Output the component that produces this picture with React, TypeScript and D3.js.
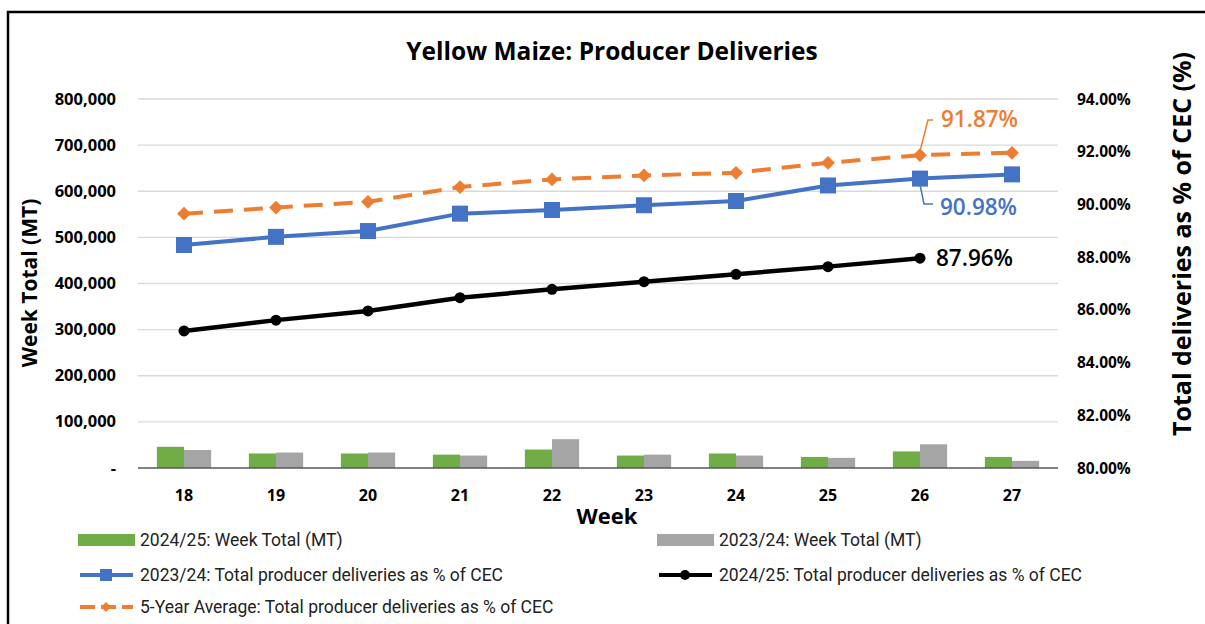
import React, { useEffect, useRef } from "react";
import * as d3 from "d3";

// weeks on the x axis
const weeks = ["18", "19", "20", "21", "22", "23", "24", "25", "26", "27"];

// weekly totals (MT), left axis
const weekTotal2425 = [46000, 31500, 31500, 29000, 40000, 27000, 31500, 24000, 36000, 24000];
const weekTotal2324 = [39000, 33500, 33500, 27000, 62500, 29000, 27000, 22000, 51500, 15500];

// deliveries as % of CEC, right axis
const pct2324 = [88.46, 88.77, 88.99, 89.65, 89.79, 89.97, 90.13, 90.72, 90.98, 91.14];
const pct2425 = [85.2, 85.61, 85.96, 86.46, 86.78, 87.07, 87.35, 87.64, 87.96];
const pct5yr = [89.65, 89.88, 90.1, 90.66, 90.95, 91.1, 91.2, 91.58, 91.87, 91.96];

const leftTicks = [0, 100000, 200000, 300000, 400000, 500000, 600000, 700000, 800000];
const rightTicks = [80, 82, 84, 86, 88, 90, 92, 94];

const GREEN = "#70AD47";
const GRAY = "#A5A5A5";
const BLUE = "#4472C4";
const ORANGE = "#ED7D31";
const FONT = "'Open Sans', 'Noto Sans', sans-serif";

export default function App() {
  const ref = useRef<SVGSVGElement>(null);

  useEffect(() => {
    const svg = d3.select(ref.current);
    svg.selectAll("*").remove();

    const left = 138,
      right = 1058,
      top = 99,
      bottom = 468;

    const x = d3.scaleBand().domain(weeks).range([left, right]).paddingInner(0.41).paddingOuter(0.205);
    const xc = (w: string) => (x(w) as number) + x.bandwidth() / 2;
    const sub = d3.scaleBand().domain(["a", "b"]).range([0, x.bandwidth()]);
    const yL = d3.scaleLinear().domain([0, 800000]).range([bottom, top]);
    const yR = d3.scaleLinear().domain([80, 94]).range([bottom, top]);

    // frame
    svg.append("line").attr("x1", 7).attr("x2", 1205).attr("y1", 12).attr("y2", 12).attr("stroke", "#000").attr("stroke-width", 2.5);
    svg.append("line").attr("x1", 8).attr("x2", 8).attr("y1", 11).attr("y2", 624).attr("stroke", "#000").attr("stroke-width", 2.5);

    // title
    svg
      .append("text")
      .attr("x", 612)
      .attr("y", 60)
      .attr("text-anchor", "middle")
      .attr("font-family", FONT)
      .attr("font-weight", 700)
      .attr("font-size", 24.5)
      .attr("fill", "#000")
      .text("Yellow Maize: Producer Deliveries");

    // gridlines
    svg
      .selectAll(".grid")
      .data(leftTicks.slice(1))
      .join("line")
      .attr("class", "grid")
      .attr("x1", left)
      .attr("x2", right)
      .attr("y1", (d) => yL(d))
      .attr("y2", (d) => yL(d))
      .attr("stroke", "#D9D9D9")
      .attr("stroke-width", 1.3);

    // left ticks
    svg
      .selectAll(".ltick")
      .data(leftTicks)
      .join("text")
      .attr("class", "ltick")
      .attr("x", 116)
      .attr("y", (d) => yL(d) + 5.5)
      .attr("text-anchor", "end")
      .attr("font-family", FONT)
      .attr("font-weight", 700)
      .attr("font-size", 16.5)
      .text((d) => (d === 0 ? "-" : d3.format(",")(d)));

    // right ticks
    svg
      .selectAll(".rtick")
      .data(rightTicks)
      .join("text")
      .attr("class", "rtick")
      .attr("x", 1077)
      .attr("y", (d) => yR(d) + 5.5)
      .attr("font-family", FONT)
      .attr("font-weight", 700)
      .attr("font-size", 15.5)
      .text((d) => d.toFixed(2) + "%");

    // bars
    const bars = weeks.map((w, i) => ({ w, a: weekTotal2425[i], b: weekTotal2324[i] }));
    svg
      .selectAll(".bar-a")
      .data(bars)
      .join("rect")
      .attr("class", "bar-a")
      .attr("x", (d) => (x(d.w) as number) + (sub("a") as number))
      .attr("width", sub.bandwidth())
      .attr("y", (d) => yL(d.a))
      .attr("height", (d) => yL(0) - yL(d.a))
      .attr("fill", GREEN);
    svg
      .selectAll(".bar-b")
      .data(bars)
      .join("rect")
      .attr("class", "bar-b")
      .attr("x", (d) => (x(d.w) as number) + (sub("b") as number))
      .attr("width", sub.bandwidth())
      .attr("y", (d) => yL(d.b))
      .attr("height", (d) => yL(0) - yL(d.b))
      .attr("fill", GRAY);

    // x axis line
    svg.append("line").attr("x1", left).attr("x2", right).attr("y1", bottom).attr("y2", bottom).attr("stroke", "#595959").attr("stroke-width", 1.5);

    // x ticks
    svg
      .selectAll(".xtick")
      .data(weeks)
      .join("text")
      .attr("class", "xtick")
      .attr("x", (d) => xc(d))
      .attr("y", 501)
      .attr("text-anchor", "middle")
      .attr("font-family", FONT)
      .attr("font-weight", 700)
      .attr("font-size", 16)
      .text((d) => d);

    // axis titles
    svg
      .append("text")
      .attr("x", 607)
      .attr("y", 524)
      .attr("text-anchor", "middle")
      .attr("font-family", FONT)
      .attr("font-weight", 700)
      .attr("font-size", 22)
      .text("Week");
    svg
      .append("text")
      .attr("transform", "translate(37,283) rotate(-90)")
      .attr("text-anchor", "middle")
      .attr("font-family", FONT)
      .attr("font-weight", 700)
      .attr("font-size", 21)
      .text("Week Total (MT)");
    svg
      .append("text")
      .attr("transform", "translate(1191,244) rotate(-90)")
      .attr("text-anchor", "middle")
      .attr("font-family", FONT)
      .attr("font-weight", 700)
      .attr("font-size", 25)
      .text("Total deliveries as % of CEC (%)");

    const line = d3
      .line<number>()
      .x((d, i) => xc(weeks[i]))
      .y((d) => yR(d));

    // 5-year average (dashed, diamonds)
    svg.append("path").attr("d", line(pct5yr)).attr("fill", "none").attr("stroke", ORANGE).attr("stroke-width", 4).attr("stroke-dasharray", "19,11");
    svg
      .selectAll(".pt-5yr")
      .data(pct5yr)
      .join("path")
      .attr("class", "pt-5yr")
      .attr("transform", (d, i) => `translate(${xc(weeks[i])},${yR(d)}) rotate(45)`)
      .attr("d", d3.symbol(d3.symbolSquare, 95)())
      .attr("fill", ORANGE);

    // 2023/24 (blue squares)
    svg.append("path").attr("d", line(pct2324)).attr("fill", "none").attr("stroke", BLUE).attr("stroke-width", 4);
    svg
      .selectAll(".pt-2324")
      .data(pct2324)
      .join("rect")
      .attr("class", "pt-2324")
      .attr("x", (d, i) => xc(weeks[i]) - 8)
      .attr("y", (d) => yR(d) - 8)
      .attr("width", 16)
      .attr("height", 16)
      .attr("fill", BLUE);

    // 2024/25 (black circles)
    svg.append("path").attr("d", line(pct2425)).attr("fill", "none").attr("stroke", "#000").attr("stroke-width", 4.5);
    svg
      .selectAll(".pt-2425")
      .data(pct2425)
      .join("circle")
      .attr("class", "pt-2425")
      .attr("cx", (d, i) => xc(weeks[i]))
      .attr("cy", (d) => yR(d))
      .attr("r", 5.5)
      .attr("fill", "#000");

    // data labels on week 26
    const i26 = weeks.indexOf("26");
    const x26 = xc("26");
    svg
      .append("path")
      .attr("d", `M${x26},${yR(pct5yr[i26]) - 4} L${x26 + 8},${120} L${x26 + 13},${120}`)
      .attr("fill", "none")
      .attr("stroke", ORANGE)
      .attr("stroke-width", 1.5);
    svg
      .append("text")
      .attr("x", x26 + 21)
      .attr("y", 127)
      .attr("font-family", FONT)
      .attr("font-weight", 600)
      .attr("font-size", 22.5)
      .attr("fill", ORANGE)
      .text(pct5yr[i26].toFixed(2) + "%");
    svg
      .append("path")
      .attr("d", `M${x26},${yR(pct2324[i26]) + 6} L${x26 + 4},${204} L${x26 + 13},${204}`)
      .attr("fill", "none")
      .attr("stroke", BLUE)
      .attr("stroke-width", 1.5);
    svg
      .append("text")
      .attr("x", x26 + 20)
      .attr("y", 215)
      .attr("font-family", FONT)
      .attr("font-weight", 600)
      .attr("font-size", 22.5)
      .attr("fill", BLUE)
      .text(pct2324[i26].toFixed(2) + "%");
    svg
      .append("text")
      .attr("x", x26 + 16)
      .attr("y", yR(pct2425[i26]) + 8)
      .attr("font-family", FONT)
      .attr("font-weight", 600)
      .attr("font-size", 22.5)
      .attr("fill", "#000")
      .text(pct2425[i26].toFixed(2) + "%");

    // legend
    const legend = [
      { label: "2024/25: Week Total (MT)", kind: "bar", color: GREEN, x: 78, y: 540 },
      { label: "2023/24: Week Total (MT)", kind: "bar", color: GRAY, x: 657, y: 540 },
      { label: "2023/24: Total producer deliveries as % of CEC", kind: "square", color: BLUE, x: 78, y: 575 },
      { label: "2024/25: Total producer deliveries as % of CEC", kind: "circle", color: "#000", x: 657, y: 575 },
      { label: "5-Year Average: Total producer deliveries as % of CEC", kind: "diamond", color: ORANGE, x: 78, y: 607 },
    ];
    const lg = svg.selectAll(".lg").data(legend).join("g").attr("class", "lg").attr("transform", (d) => `translate(${d.x},${d.y})`);
    lg.each(function (d) {
      const g = d3.select(this);
      if (d.kind === "bar") {
        g.append("rect").attr("x", 0).attr("y", -6).attr("width", 57).attr("height", 12).attr("fill", d.color);
      } else {
        g.append("line")
          .attr("x1", 2)
          .attr("x2", 55)
          .attr("y1", 0)
          .attr("y2", 0)
          .attr("stroke", d.color)
          .attr("stroke-width", 4)
          .attr("stroke-dasharray", d.kind === "diamond" ? "15,6" : null);
        if (d.kind === "square") g.append("rect").attr("x", 22).attr("y", -6).attr("width", 12).attr("height", 12).attr("fill", d.color);
        if (d.kind === "circle") g.append("circle").attr("cx", 28).attr("cy", 0).attr("r", 5).attr("fill", d.color);
        if (d.kind === "diamond")
          g.append("path").attr("transform", "translate(28,0) rotate(45)").attr("d", d3.symbol(d3.symbolSquare, 50)()).attr("fill", d.color);
      }
      g.append("text")
        .attr("x", 62)
        .attr("y", 6)
        .attr("font-family", "'Roboto', sans-serif")
        .attr("font-size", 17.5)
        .attr("fill", "#222")
        .text(d.label);
    });
  }, []);

  return (
    <div style={{ position: "absolute", left: 0, top: 0 }}>
      <svg ref={ref} width={1205} height={624} style={{ display: "block", background: "#fff" }} />
    </div>
  );
}
